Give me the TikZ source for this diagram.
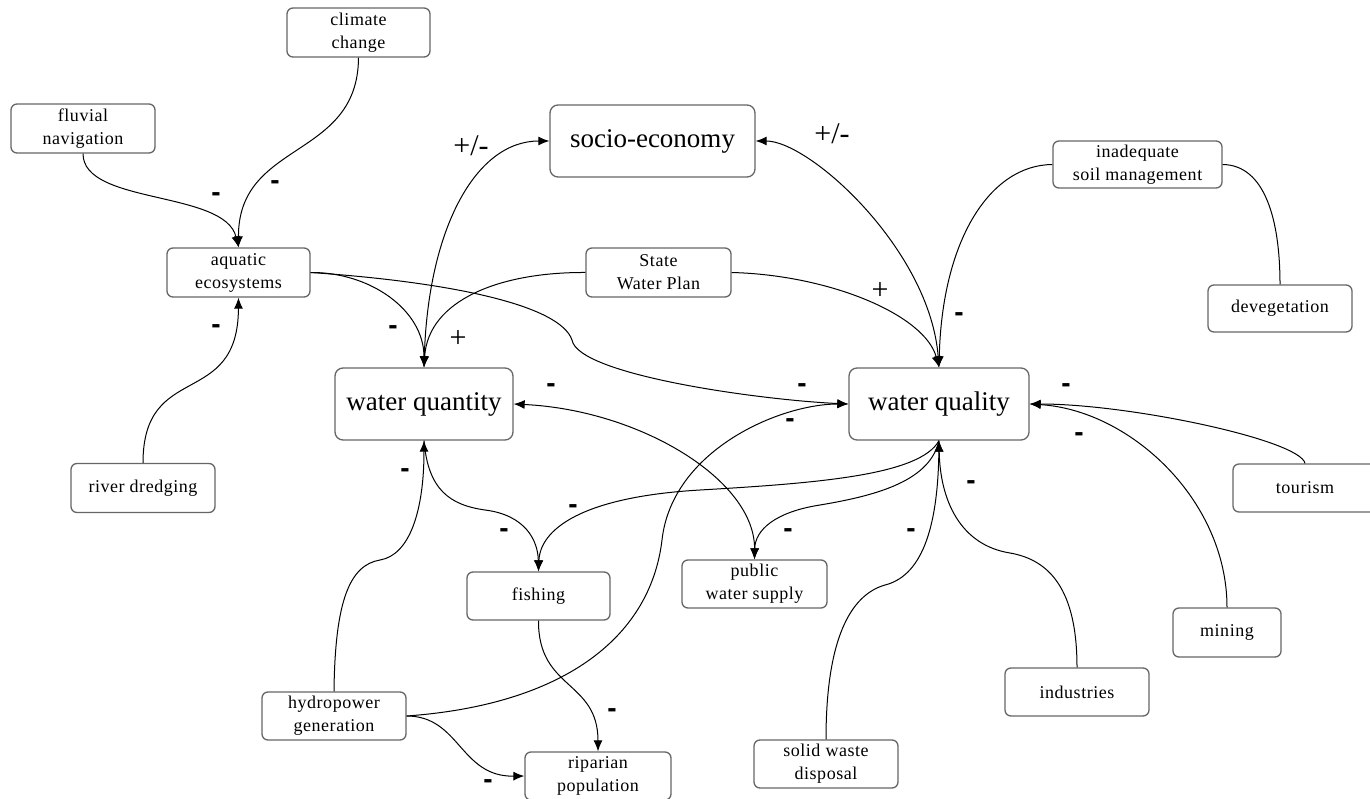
\documentclass[tikz,border=0pt]{standalone}
\usepackage{fontspec}
\setmainfont{Liberation Serif}
\newfontfamily\boxfont[LetterSpace=3]{Liberation Serif}
\newfontfamily\bigfont{Liberation Serif}
\newfontfamily\signfont{Liberation Sans}
\usetikzlibrary{arrows.meta}

\begin{document}
\begin{tikzpicture}[x=1pt,y=-1pt,
small node/.style={draw=black!60,line width=1.3pt,rounded corners=6pt,fill=white,align=center,minimum height=49pt,inner sep=0pt,font=\boxfont\fontsize{18}{23}\selectfont},
main node/.style={draw=black!60,line width=1.3pt,rounded corners=8pt,fill=white,align=center,minimum width=180pt,minimum height=72pt,inner sep=0pt,font=\bigfont\fontsize{27}{30}\selectfont},
minus/.style={font=\signfont\bfseries\fontsize{28}{28}\selectfont,inner sep=0pt},
plus/.style={font=\bigfont\fontsize{30}{30}\selectfont,inner sep=0pt},
link/.style={line width=1pt,-{Latex[length=11pt,width=9pt]}},
twoway/.style={line width=1pt,{Latex[length=11pt,width=9pt]}-{Latex[length=11pt,width=9pt]}}]
\useasboundingbox (0,0) rectangle (1370,799);

\node[small node,minimum width=143pt] (climate) at (358.5,32.5){climate\\change};
\node[small node,minimum width=144pt] (fluvial) at (83,128.5){fluvial\\navigation};
\node[small node,minimum width=143pt] (aquatic) at (238.5,272.5){aquatic\\ecosystems};
\node[small node,minimum width=144pt] (dredging) at (143,488){river dredging};
\node[main node,minimum width=205pt] (socio) at (652.5,141){socio-economy};
\node[small node,minimum width=145pt] (plan) at (658.5,272.5){State\\Water Plan};
\node[main node,minimum width=178pt] (quantity) at (424,404){water quantity};
\node[main node] (quality) at (939,404){water quality};
\node[small node,minimum width=169pt,minimum height=47pt] (soil) at (1137.5,164.5){inadequate\\soil management};
\node[small node,minimum width=144pt,minimum height=47pt] (deveg) at (1280,308.5){devegetation};
\node[small node,minimum width=144pt,minimum height=48pt] (tourism) at (1305,488){tourism};
\node[small node,minimum width=143pt,minimum height=48pt] (fishing) at (538.5,596){fishing};
\node[small node,minimum width=145pt,minimum height=48pt] (supply) at (754.5,584){public\\water supply};
\node[small node,minimum width=144pt,minimum height=48pt] (hydro) at (334,716){hydropower\\generation};
\node[small node,minimum width=146pt,minimum height=48pt] (riparian) at (598,776){riparian\\population};
\node[small node,minimum width=144pt,minimum height=48pt] (waste) at (826,764){solid waste\\disposal};
\node[small node,minimum width=144pt,minimum height=48pt] (industries) at (1077,692){industries};
\node[small node,minimum width=108pt] (mining) at (1227,632.5){mining};

\draw[link] (fluvial.south) .. controls (83,205) and (225,190) .. (aquatic.north);
\draw[link] (climate.south) .. controls (358,160) and (238,140) .. (aquatic.north);
\draw[link] (dredging.north) .. controls (143,360) and (238,410) .. (aquatic.south);
\draw[link] (aquatic.east) .. controls (370,272) and (424,310) .. (quantity.north);
\draw[link] (aquatic.east) .. controls (450,282) and (560,305) .. (572,340) .. controls (578,375) and (760,400) .. (quality.west);
\draw[link] (plan.west) .. controls (500,272) and (428,300) .. (quantity.north);
\draw[link] (plan.east) .. controls (830,275) and (925,315) .. (quality.north);
\draw[twoway] (quantity.north) .. controls (428,230) and (475,141) .. (socio.west);
\draw[twoway] (quality.north) .. controls (930,250) and (810,141) .. (socio.east);
\draw[link] (soil.west) .. controls (990,165) and (942,240) .. (quality.north);
\draw[line width=1pt] (soil.east) .. controls (1265,165) and (1280,220) .. (deveg.north);
\draw[link] (tourism.north) .. controls (1300,440) and (1130,404) .. (quality.east);
\draw[link] (mining.north) .. controls (1227,500) and (1130,410) .. (quality.east);
\draw[link] (industries.north) .. controls (1077,590) and (1050,560) .. (1010,553) .. controls (960,545) and (940,500) .. (quality.south);
\draw[link] (waste.north) .. controls (826,640) and (850,595) .. (885,585) .. controls (925,575) and (938,520) .. (quality.south);
\draw[link] (quality.south) .. controls (930,480) and (880,495) .. (820,505) .. controls (775,512) and (755,530) .. (supply.north);
\draw[link] (quality.south) .. controls (920,475) and (820,483) .. (700,490) .. controls (580,497) and (540,530) .. (fishing.north);
\draw[twoway] (quantity.east) .. controls (640,410) and (755,480) .. (supply.north);
\draw[link] (quantity.south) .. controls (428,490) and (450,505) .. (485,510) .. controls (525,515) and (538,540) .. (fishing.north);
\draw[link] (hydro.north) .. controls (335,600) and (350,565) .. (380,560) .. controls (410,555) and (424,510) .. (quantity.south);
\draw[link] (hydro.east) .. controls (560,705) and (650,640) .. (662,540) .. controls (672,450) and (780,404) .. (quality.west);
\draw[link] (hydro.east) .. controls (460,716) and (460,777) .. (riparian.west);
\draw[link] (fishing.south) .. controls (538,690) and (598,680) .. (riparian.north);

\node[plus] (pm1) at (471,146){+/-};
\node[plus] (pm2) at (832,134){+/-};
\node[plus] (p1) at (458,339){+};
\node[plus] (p2) at (880,291){+};
\node[minus] (m1) at (216,197){-};
\node[minus] (m2) at (275,185){-};
\node[minus] (m3) at (216,329){-};
\node[minus] (m4) at (393,330){-};
\node[minus] (m5) at (551,388){-};
\node[minus] (m6) at (802,388){-};
\node[minus] (m7) at (790,423){-};
\node[minus] (m8) at (959,317){-};
\node[minus] (m9) at (1066,388){-};
\node[minus] (m10) at (1079,437){-};
\node[minus] (m11) at (971,485){-};
\node[minus] (m12) at (911,533){-};
\node[minus] (m13) at (788,533){-};
\node[minus] (m14) at (573,509){-};
\node[minus] (m15) at (504,533){-};
\node[minus] (m16) at (405,473){-};
\node[minus] (m17) at (612,713){-};
\node[minus] (m18) at (488,784){-};
\end{tikzpicture}
\end{document}
